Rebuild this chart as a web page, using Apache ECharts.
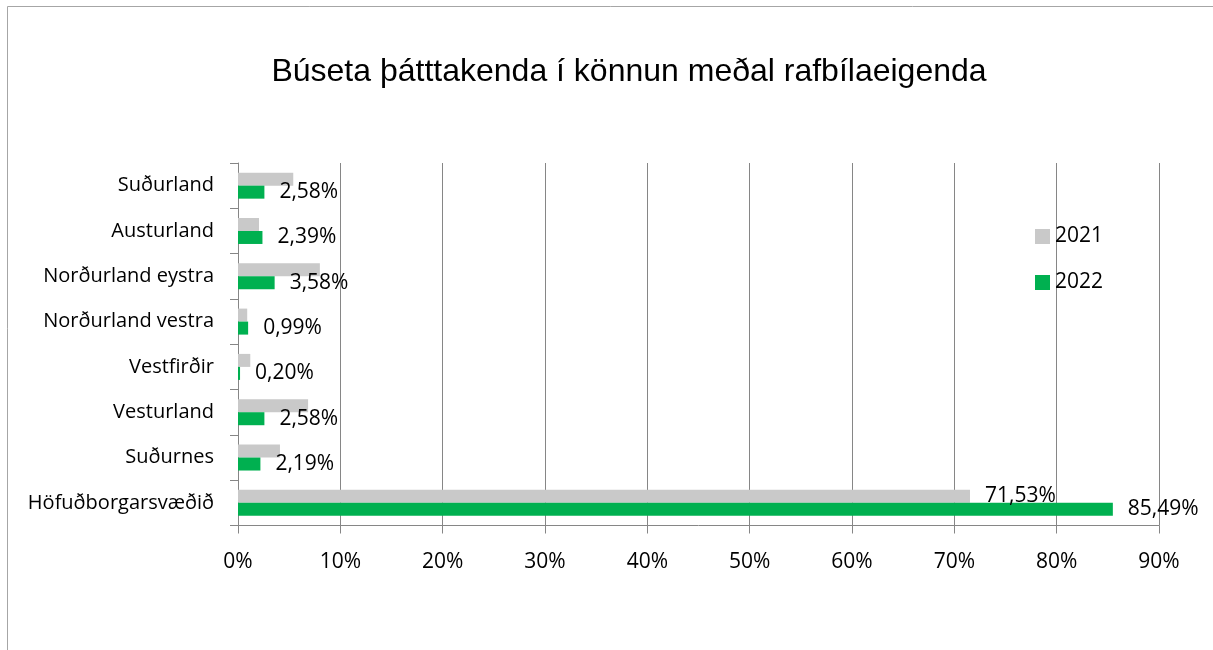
<!DOCTYPE html>
<html>
<head>
<meta charset="utf-8">
<title>Búseta þátttakenda</title>
<script src="https://cdn.jsdelivr.net/npm/echarts@6/dist/echarts.min.js"></script>
<style>
  html, body { margin: 0; padding: 0; background: #fff; }
  #chart { width: 1213px; height: 650px; }
</style>
</head>
<body>
<div id="chart"></div>
<script>
  // categories bottom -> top (ECharts y category axis starts at the bottom)
  var regions = ['Höfuðborgarsvæðið', 'Suðurnes', 'Vesturland', 'Vestfirðir',
    'Norðurland vestra', 'Norðurland eystra', 'Austurland', 'Suðurland'];
  var values2021 = [71.53, 4.1, 6.85, 1.2, 0.9, 8.0, 2.05, 5.4];
  var values2022 = [85.49, 2.19, 2.58, 0.20, 0.99, 3.58, 2.39, 2.58];
  var xTicks = [0, 10, 20, 30, 40, 50, 60, 70, 80, 90];

  var font = '"Open Sans", "Noto Sans", sans-serif';
  var pct = function (v) { return v.toFixed(2).replace('.', ',') + '%'; };

  var dataLabel = {
    show: true,
    position: 'right',
    distance: 15,
    fontFamily: font,
    fontSize: 21,
    color: '#000',
    formatter: function (p) { return pct(p.value); }
  };

  var dom = echarts.init(document.getElementById('chart'));
  var option = {
    animation: false,
    backgroundColor: '#fff',
    graphic: [{
      type: 'rect',
      shape: { x: 7.5, y: 6.5, width: 1400, height: 800 },
      style: { fill: 'none', stroke: '#a6a6a6', lineWidth: 1 },
      silent: true
    }],
    title: {
      text: 'Búseta þátttakenda í könnun meðal rafbílaeigenda',
      left: 624,
      top: 51,
      textAlign: 'center',
      textStyle: {
        fontFamily: '"Liberation Sans", Arial, sans-serif',
        fontWeight: 'normal',
        fontSize: 32,
        color: '#000'
      }
    },
    legend: {
      data: ['2021', '2022'],
      orient: 'vertical',
      left: 1035,
      top: 226,
      padding: 0,
      itemWidth: 15,
      itemHeight: 15,
      itemGap: 25,
      icon: 'rect',
      textStyle: { fontFamily: font, fontSize: 21, color: '#000' }
    },
    grid: {
      left: 238,
      right: 54,
      top: 163,
      height: 362.5,
      containLabel: false
    },
    xAxis: {
      type: 'value',
      min: 0,
      max: 90,
      interval: 10,
      axisLine: { show: true, lineStyle: { color: '#868686' } },
      axisTick: { show: true, length: 8, lineStyle: { color: '#868686' } },
      splitLine: { show: true, lineStyle: { color: '#868686' } },
      axisLabel: {
        margin: 26,
        fontFamily: font,
        fontSize: 21,
        color: '#000',
        formatter: function (v) { return xTicks.indexOf(v) >= 0 ? v + '%' : ''; }
      }
    },
    yAxis: {
      type: 'category',
      data: regions,
      axisLine: { show: true, lineStyle: { color: '#868686' } },
      axisTick: { show: true, length: 8, lineStyle: { color: '#868686' } },
      axisLabel: {
        margin: 24,
        fontFamily: font,
        fontSize: 20,
        color: '#000'
      }
    },
    series: [{
      name: '2021',
      type: 'bar',
      barWidth: 13,
      barGap: '0%',
      itemStyle: { color: '#c9c9c9' },
      data: values2021.map(function (v, i) {
        // only the capital region carries a 2021 label
        return i === 0 ? { value: v, label: dataLabel } : v;
      })
    }, {
      name: '2022',
      type: 'bar',
      data: values2022,
      barWidth: 13,
      barGap: '0%',
      itemStyle: { color: '#00b050' },
      label: dataLabel
    }]
  };
  dom.setOption(option);
  window.addEventListener('resize', function () { dom.resize(); });
</script>
</body>
</html>
